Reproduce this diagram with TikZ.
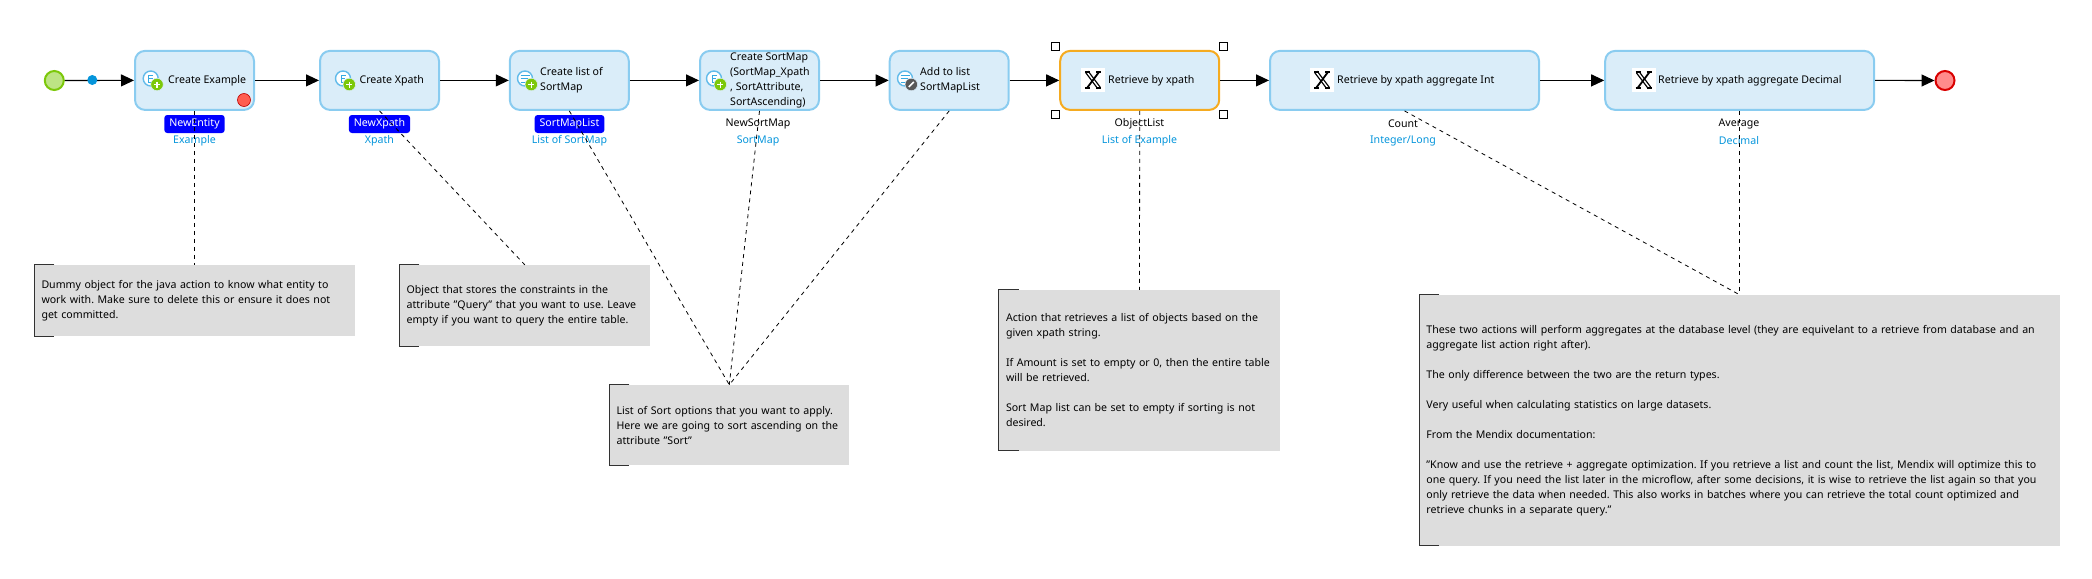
\documentclass[tikz,border=0pt]{standalone}
\usepackage{fontspec}
\setmainfont{Noto Sans}
\frenchspacing
\usetikzlibrary{arrows.meta}
\definecolor{boxfill}{RGB}{218,237,249}
\definecolor{boxline}{RGB}{138,204,240}
\definecolor{pickline}{RGB}{245,171,32}
\definecolor{linkblue}{RGB}{5,149,219}
\definecolor{notefill}{RGB}{221,221,221}
\definecolor{noteline}{RGB}{50,50,50}
\definecolor{addgreen}{RGB}{124,200,10}
\definecolor{editgray}{RGB}{88,88,88}
\tikzset{
  every node/.style={font=\fontsize{10.6}{15}\selectfont},
  action/.style={draw=boxline,fill=boxfill,line width=2pt,rounded corners=10pt,minimum height=59pt,inner sep=0pt},
  picked/.style={action,draw=pickline},
  acttext/.style={anchor=west,align=left,inner sep=0pt},
  varname/.style={inner sep=0pt},
  vartype/.style={inner sep=0pt,text=linkblue},
  badge/.style={fill=blue,text=white,rounded corners=3pt,minimum height=18pt,inner xsep=5pt,inner ysep=0pt},
  flow/.style={line width=1.1pt,-{Triangle[length=13pt,width=12pt]}},
  anno/.style={densely dashed,line width=.8pt,dash pattern=on 4pt off 4pt},
  notebox/.style={fill=notefill,inner xsep=7pt,inner ysep=0pt,align=left},
  notemark/.style={draw=noteline,line width=1pt},
  handle/.style={draw=black,fill=white,line width=1pt,minimum size=7.5pt,inner sep=0pt},
  ring/.style={circle,draw=boxline!70!linkblue,fill=white,line width=1.4pt,minimum size=15pt,inner sep=0pt},
  pics/entityicon/.style={code={
    \node[ring] (ring) at (0,0) {};
    \draw[linkblue!80,line width=1pt] (2.5,-3.5) -- (-2,-3.5) -- (-2,3.5) -- (2.5,3.5) (-2,0) -- (2,0);
    \node[circle,fill=addgreen,draw=boxfill,line width=.5pt,minimum size=12.5pt,inner sep=0pt] (dot) at (6.3,6) {};
    \draw[white,line width=1.3pt] (3.3,6) -- (9.3,6) (6.3,3) -- (6.3,9);
  }},
  pics/listicon/.style={code={
    \node[ring] (ring) at (0,0) {};
    \draw[linkblue!80,line width=1pt] (-4.5,-3.5) -- (4.5,-3.5) (-4.5,0) -- (3,0) (-4.5,3.5) -- (1,3.5);
    \node[circle,fill=addgreen,draw=boxfill,line width=.5pt,minimum size=12.5pt,inner sep=0pt] (dot) at (6.3,6) {};
    \draw[white,line width=1.3pt] (3.3,6) -- (9.3,6) (6.3,3) -- (6.3,9);
  }},
  pics/changeicon/.style={code={
    \node[ring] (ring) at (0,0) {};
    \draw[linkblue!80,line width=1pt] (-4.5,-3.5) -- (4.5,-3.5) (-4.5,0) -- (3,0) (-4.5,3.5) -- (1,3.5);
    \node[circle,fill=editgray,draw=boxfill,line width=.5pt,minimum size=12.5pt,inner sep=0pt] (dot) at (6.3,6) {};
    \draw[white,line width=1.6pt] (3.8,8.5) -- (8.8,3.5);
  }},
  pics/xicon/.style={code={
    \node[fill=white,minimum size=24pt,inner sep=0pt] (tile) at (0,0) {};
    \draw[black,line width=4pt] (-6,-8) -- (6,8);
    \draw[white,line width=1.4pt] (-6,-8) -- (6,8);
    \draw[black,line width=1.8pt] (6,-8) -- (-6,8);
    \draw[black,line width=1.5pt] (-8,-8) -- (-3,-8) (3,-8) -- (8,-8) (-8,8) -- (-3,8) (3,8) -- (8,8);
  }},
}
\begin{document}
\begin{tikzpicture}[x=1pt,y=-1pt]
  \useasboundingbox (0,0) rectangle (2092,578);
  \node[circle,draw=addgreen,fill=addgreen!50!white,line width=2pt,minimum size=19pt,inner sep=0pt] (start) at (54.3,80.5) {};
  \node[circle,draw=red!85!black,fill=red!45!white,line width=2pt,minimum size=19pt,inner sep=0pt] (stop) at (1945,80.5) {};

  \node[action,minimum width=119pt] (create1) at (194.5,80.4) {};
  \node[action,minimum width=119pt] (create2) at (379.5,80.4) {};
  \node[action,minimum width=119pt] (create3) at (569.3,80.4) {};
  \node[action,minimum width=119pt] (create4) at (759.5,80.4) {};
  \node[action,minimum width=119pt] (add5) at (949.2,80.4) {};
  \node[picked,minimum width=159pt] (fetch6) at (1139.7,80.4) {};
  \node[action,minimum width=269pt] (fetch7) at (1404.5,80.4) {};
  \node[action,minimum width=269pt] (fetch8) at (1739.7,80.4) {};

  \pic (ic1) at (150.7,78.5) {entityicon};
  \pic (ic2) at (343,78.5) {entityicon};
  \pic (ic3) at (525,78.5) {listicon};
  \pic (ic4) at (714,78.5) {entityicon};
  \pic (ic5) at (905,78.5) {changeicon};
  \pic (ic6) at (1093,80) {xicon};
  \pic (ic7) at (1322,80) {xicon};
  \pic (ic8) at (1643.6,80) {xicon};
  \node[circle,draw=red!75!black,fill=red!65!white!90!orange,line width=.6pt,minimum size=13pt,inner sep=0pt] (err1) at (244,100) {};

  \node[acttext] (txt1) at (168,80.4) {Create Example};
  \node[acttext] (txt2) at (359.4,80.4) {Create Xpath};
  \node[acttext] (txt3) at (540,80.4) {Create list of\\SortMap};
  \node[acttext] (txt4) at (730,80.4) {Create SortMap\\(SortMap\_Xpath\\, SortAttribute,\\SortAscending)};
  \node[acttext] (txt5) at (920,80.4) {Add to list\\SortMapList};
  \node[acttext] (txt6) at (1108,80.4) {Retrieve by xpath};
  \node[acttext] (txt7) at (1337,80.4) {Retrieve by xpath aggregate Int};
  \node[acttext] (txt8) at (1658,80.4) {Retrieve by xpath aggregate Decimal};

  \node[badge] (var1) at (194.5,124) {NewEntity};
  \node[badge] (var2) at (379.5,124) {NewXpath};
  \node[badge] (var3) at (569.5,124) {SortMapList};
  \node[varname] (var4) at (758,123.5) {NewSortMap};
  \node[varname] (var6) at (1139.5,123.5) {ObjectList};
  \node[varname] (var7) at (1403,123.5) {Count};
  \node[varname] (var8) at (1739,123.5) {Average};
  \node[vartype] (type1) at (194.5,140.5) {Example};
  \node[vartype] (type2) at (379.5,140.5) {Xpath};
  \node[vartype] (type3) at (569.5,140.5) {List of SortMap};
  \node[vartype] (type4) at (758,140.5) {SortMap};
  \node[vartype] (type6) at (1139.5,140.5) {List of Example};
  \node[vartype] (type7) at (1403,140.5) {Integer/Long};
  \node[vartype] (type8) at (1739,140.5) {Decimal};

  \node[handle] (hnd1) at (1055.7,46.3) {};
  \node[handle] (hnd2) at (1223.3,46.3) {};
  \node[handle] (hnd3) at (1055.7,114.3) {};
  \node[handle] (hnd4) at (1223.3,114.3) {};

  \draw[flow] (start.east) -- (create1.west);
  \draw[flow] (create1.east) -- (create2.west);
  \draw[flow] (create2.east) -- (create3.west);
  \draw[flow] (create3.east) -- (create4.west);
  \draw[flow] (create4.east) -- (add5.west);
  \draw[flow] (add5.east) -- (fetch6.west);
  \draw[flow] (fetch6.east) -- (fetch7.west);
  \draw[flow] (fetch7.east) -- (fetch8.west);
  \draw[flow] (fetch8.east) -- (stop.west);
  \node[circle,fill=linkblue,minimum size=10pt,inner sep=0pt] (origin) at (92.3,80) {};

  \node[notebox,text width=306pt,minimum height=71pt] (note1) at (194.5,300.5) {Dummy object for the java action to know what entity to\\work with. Make sure to delete this or ensure it does not\\get committed.};
  \node[notebox,text width=236.5pt,minimum height=81pt] (note2) at (524.8,305.5) {Object that stores the constraints in the\\attribute "Query" that you want to use. Leave\\empty if you want to query the entire table.};
  \node[notebox,text width=225.5pt,minimum height=80pt] (note3) at (729.3,425) {List of Sort options that you want to apply.\\Here we are going to sort ascending on the\\attribute "Sort"};
  \node[notebox,text width=267pt,minimum height=160.7pt] (note4) at (1139.5,370.4) {Action that retrieves a list of objects based on the\\given xpath string.\\[15pt]If Amount is set to empty or 0, then the entire table\\will be retrieved.\\[15pt]Sort Map list can be set to empty if sorting is not\\desired.};
  \node[notebox,text width=626.6pt,minimum height=250.7pt] (note5) at (1739.7,420.4) {These two actions will perform aggregates at the database level (they are equivelant to a retrieve from database and an\\aggregate list action right after).\\[15pt]The only difference between the two are the return types.\\[15pt]Very useful when calculating statistics on large datasets.\\[15pt]From the Mendix documentation:\\[15pt]"Know and use the retrieve + aggregate optimization. If you retrieve a list and count the list, Mendix will optimize this to\\one query. If you need the list later in the microflow, after some decisions, it is wise to retrieve the list again so that you\\only retrieve the data when needed. This also works in batches where you can retrieve the total count optimized and\\retrieve chunks in a separate query."};

  \draw[notemark] ([xshift=20pt]note1.north west) -- (note1.north west) -- (note1.south west) -- ([xshift=20pt]note1.south west);
  \draw[notemark] ([xshift=20pt]note2.north west) -- (note2.north west) -- (note2.south west) -- ([xshift=20pt]note2.south west);
  \draw[notemark] ([xshift=20pt]note3.north west) -- (note3.north west) -- (note3.south west) -- ([xshift=20pt]note3.south west);
  \draw[notemark] ([xshift=20pt]note4.north west) -- (note4.north west) -- (note4.south west) -- ([xshift=20pt]note4.south west);
  \draw[notemark] ([xshift=20pt]note5.north west) -- (note5.north west) -- (note5.south west) -- ([xshift=20pt]note5.south west);

  \draw[anno] (create1.south) -- (note1.north);
  \draw[anno] (create2.south) -- (note2.north);
  \draw[anno] (create3.south) -- (note3.north);
  \draw[anno] (create4.south) -- (note3.north);
  \draw[anno] (add5.south) -- (note3.north);
  \draw[anno] (fetch6.south) -- (note4.north);
  \draw[anno] (fetch7.south) -- (note5.north);
  \draw[anno] (fetch8.south) -- (note5.north);
\end{tikzpicture}
\end{document}
